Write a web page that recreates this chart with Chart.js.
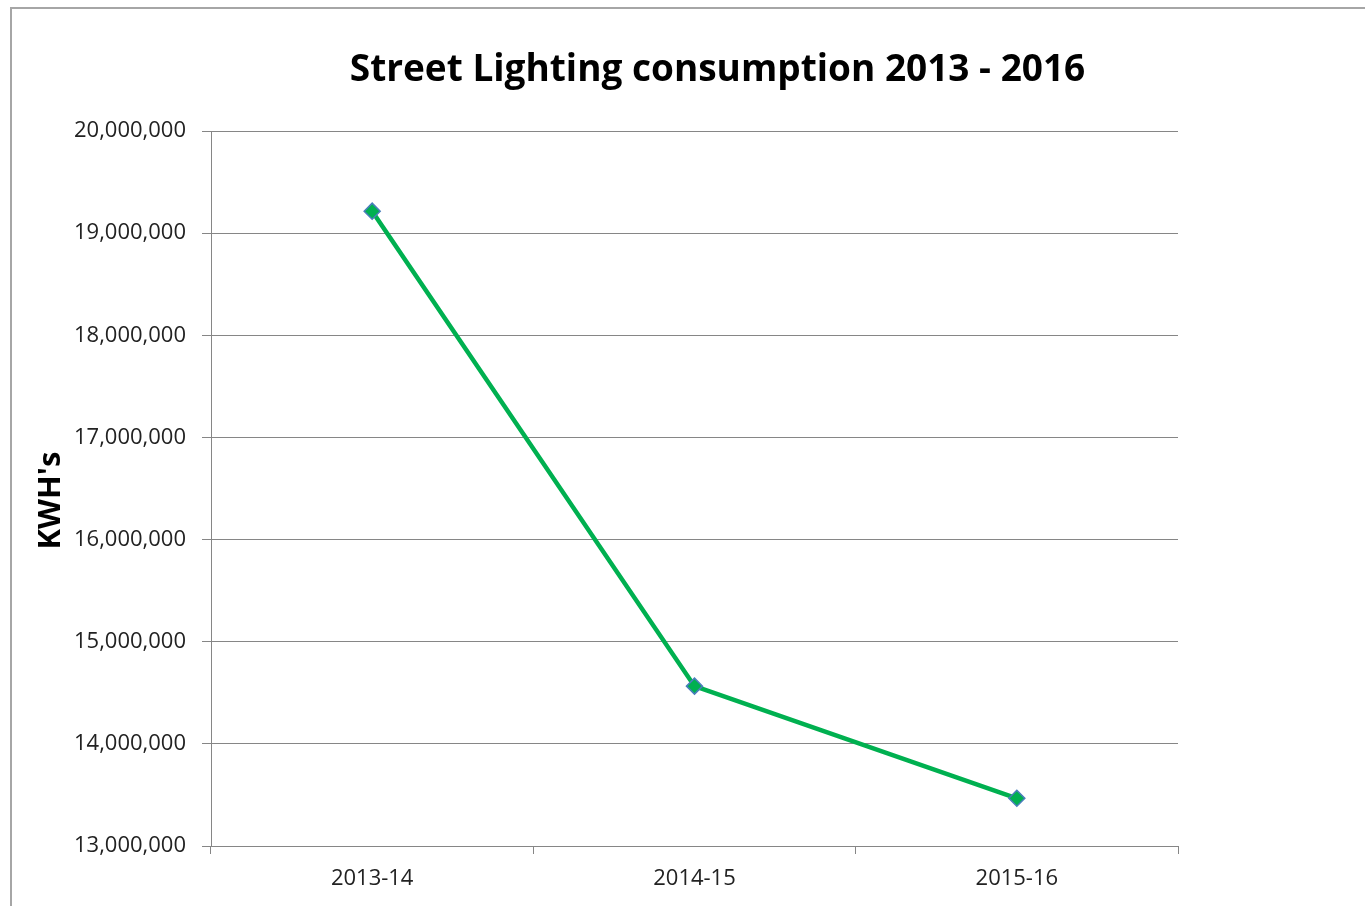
<!DOCTYPE html>
<html>
<head>
<meta charset="utf-8">
<script src="https://cdn.jsdelivr.net/npm/chart.js@4/dist/chart.umd.min.js"></script>
<style>
  html, body { margin: 0; padding: 0; background: #fff; overflow: hidden; width: 1365px; height: 906px; }
  #frame { position: absolute; left: 10px; top: 7px; width: 1500px; height: 1000px; border: 2px solid #a6a6a6; box-sizing: border-box; }
  #wrap { position: absolute; left: 0; top: 0; width: 1435px; height: 906px; }
</style>
</head>
<body>
<div id="frame"></div>
<div id="wrap"><canvas id="c" width="1435" height="906"></canvas></div>
<script>
const titleText = "Street Lighting consumption 2013 - 2016";
const yAxisTitle = "KWH's   ";
const categories = ["2013-14", "2014-15", "2015-16"];
const consumption = [19215000, 14565000, 13467000];
const yMin = 13000000;
const yMax = 20000000;
const yStep = 1000000;

const gridColor = '#868686';
const tickFont = { family: "'Open Sans'", size: 22 };

new Chart(document.getElementById('c'), {
  type: 'line',
  data: {
    labels: categories,
    datasets: [{
      label: 'KWH',
      data: consumption,
      yAxisID: 'y',
      borderColor: '#00B050',
      borderWidth: 4.5,
      backgroundColor: '#00B050',
      pointStyle: 'rectRot',
      pointRadius: 8,
      pointBorderColor: '#4A7EBB',
      pointBorderWidth: 1.5,
      pointBackgroundColor: '#00B050',
      tension: 0,
      fill: false
    }]
  },
  options: {
    responsive: false,
    animation: false,
    devicePixelRatio: 1,
    layout: { padding: 0 },
    plugins: {
      legend: { display: false },
      tooltip: { enabled: false },
      title: {
        display: true,
        text: titleText,
        color: '#000',
        font: { family: "'Open Sans'", size: 37, weight: 'bold', lineHeight: 1.2 },
        padding: { top: 48, bottom: 38.6 }
      }
    },
    scales: {
      x: {
        type: 'category',
        offset: true,
        grid: { display: true, offset: true, drawOnChartArea: false, drawTicks: true, tickLength: 8, color: gridColor, lineWidth: 1 },
        border: { display: true, color: gridColor, width: 1 },
        ticks: { color: '#222', font: tickFont, padding: 12, maxRotation: 0 },
        afterFit: (s) => { s.height = 60; }
      },
      y: {
        position: 'left',
        min: yMin,
        max: yMax,
        ticks: {
          stepSize: yStep,
          color: '#222',
          font: tickFont,
          padding: 16,
          callback: (v) => Number(v).toLocaleString('en-US')
        },
        grid: { color: gridColor, lineWidth: 1, tickLength: 9, drawTicks: true },
        border: { display: true, color: gridColor, width: 1 },
        title: {
          display: true,
          text: yAxisTitle,
          color: '#000',
          font: { family: "'Open Sans'", size: 31, weight: 'bold', lineHeight: 1.2 },
          padding: { top: 33, bottom: 0 }
        },
        afterFit: (s) => { s.width = 211; }
      },
      spacer: {
        position: 'right',
        display: true,
        min: 0,
        max: 1,
        ticks: { display: false },
        grid: { display: false, drawTicks: false },
        border: { display: false },
        afterFit: (s) => { s.width = 257; }
      }
    }
  }
});
</script>
</body>
</html>
